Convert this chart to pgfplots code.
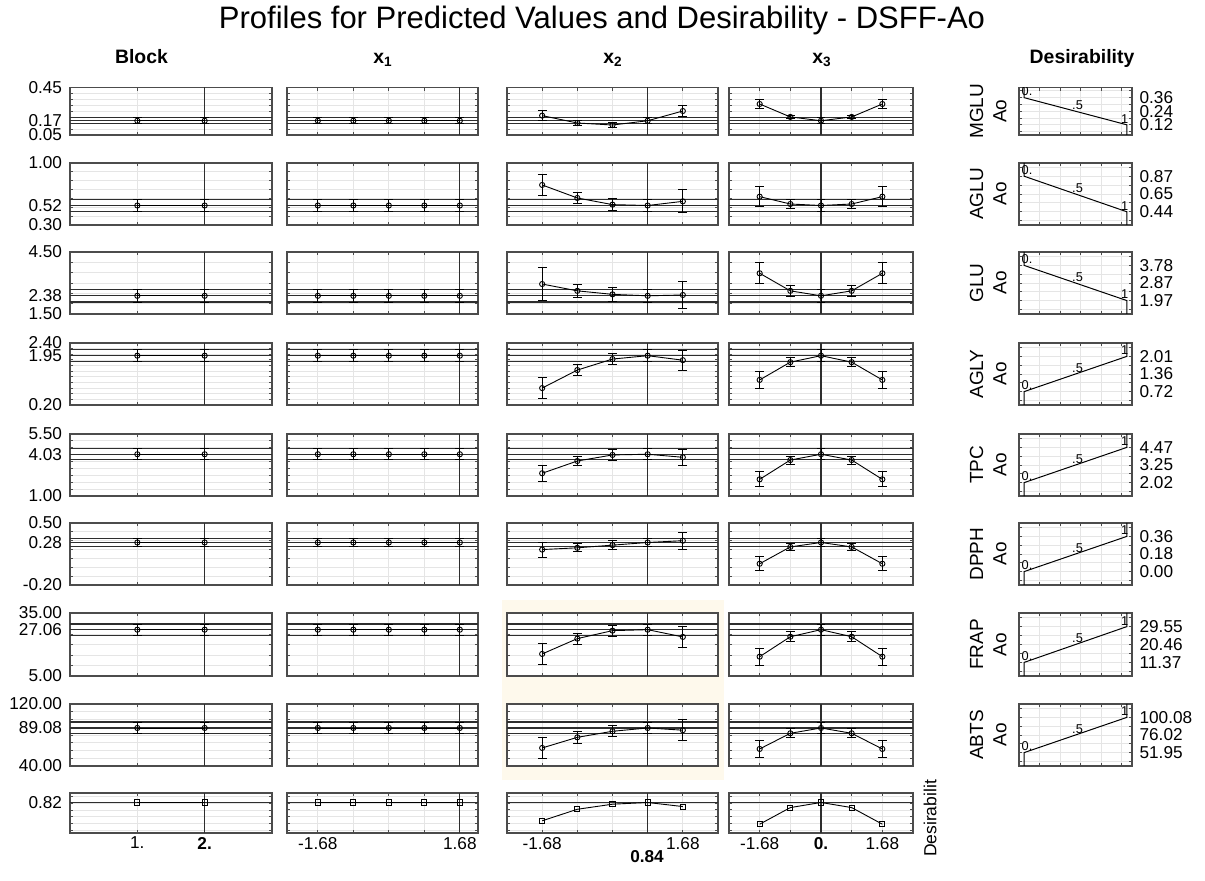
\documentclass[border=0pt]{standalone}
\usepackage{pgfplots}
\pgfplotsset{compat=1.18}
\usepackage{fontspec}
\setmainfont{Liberation Sans}

\definecolor{frame}{gray}{0.30}
\definecolor{refl}{gray}{0.18}
\definecolor{gridc}{gray}{0.90}
\definecolor{hilite}{RGB}{254,249,236}

\pgfplotsset{
  base/.style={
    scale only axis, anchor=north west,
    axis background/.style={fill=white},
    axis line style={draw=frame, line width=0.8pt},
    tick align=inside, xtick pos=both, ytick pos=both,
    major tick length=1.6pt, minor tick length=1.6pt,
    tick style={draw=frame, line width=0.45pt},
    major grid style={draw=gridc, line width=0.4pt},
    minor grid style={draw=gridc, line width=0.4pt},
    xticklabels={}, yticklabels={},
    tick label style={font=\fontsize{8.6}{9}\selectfont, inner sep=0pt},
  },
  panel/.style={
    base,
    xmajorgrids=true, ymajorgrids=false, yminorgrids=true,
    yticklabel style={xshift=-3.8pt},
    xticklabel style={yshift=-1.8pt},
    extra y tick style={ymajorgrids=true, major grid style={draw=refl, line width=0.6pt}, major tick length=0pt},
    extra y tick labels={},
    extra x tick style={xmajorgrids=true, major grid style={draw=refl, line width=0.6pt}, major tick length=0pt},
    extra x tick labels={},
  },
  dpanel/.style={
    base, width=56.5pt, xmin=-0.05, xmax=1.05,
    xtick={0.15,0.35,0.55,0.75,0.95},
    xmajorgrids=true, ymajorgrids=true,
    yticklabel pos=right,
    yticklabel style={xshift=3.6pt},
  },
  % columns of factor profiles
  cBlk/.style={width=101pt, xmin=0, xmax=3, xtick={1,2}, extra x ticks={2}},
  cXa/.style={width=95.5pt, xmin=-2.41, xmax=2.11, xtick={-1.68,-0.84,0,0.84,1.68}, extra x ticks={1.68}},
  cXb/.style={width=105.5pt, xmin=-2.52, xmax=2.52, xtick={-1.68,-0.84,0,0.84,1.68}, extra x ticks={0.84}},
  cXc/.style={width=92pt, xmin=-2.52, xmax=2.52, xtick={-1.68,-0.84,0,0.84,1.68}, extra x ticks={0}},
  % rows of responses: range, grid, prediction and confidence limits
  rMGLU/.style={height=23.75pt, ymin=0.05, ymax=0.45, ytick={0.05,0.17,0.45},
    minor ytick={0.1,0.15,0.2,0.25,0.3,0.35,0.4}, extra y ticks={0.146,0.17,0.194}},
  rAGLU/.style={height=31pt, ymin=0.3, ymax=1, ytick={0.3,0.52,1},
    minor ytick={0.4,0.5,0.6,0.7,0.8,0.9}, extra y ticks={0.45,0.52,0.59}},
  rGLU/.style={height=31pt, ymin=1.5, ymax=4.5, ytick={1.5,2.38,4.5},
    minor ytick={2,2.5,3,3.5,4}, extra y ticks={2.08,2.38,2.68}},
  rAGLY/.style={height=31pt, ymin=0.2, ymax=2.4, ytick={0.2,1.95,2.4},
    minor ytick={0.4,0.6,0.8,1,1.2,1.4,1.6,1.8,2,2.2}, extra y ticks={1.73,1.95,2.17}},
  rTPC/.style={height=31pt, ymin=1, ymax=5.5, ytick={1,4.03,5.5},
    minor ytick={1.5,2,2.5,3,3.5,4,4.5,5}, extra y ticks={3.63,4.03,4.43}},
  rDPPH/.style={height=31pt, ymin=-0.2, ymax=0.5, ytick={-0.2,0.28,0.5},
    minor ytick={-0.1,0,0.1,0.2,0.3,0.4}, extra y ticks={0.235,0.28,0.325}},
  rFRAP/.style={height=31.5pt, ymin=5, ymax=35, ytick={5,27.06,35},
    minor ytick={10,15,20,25,30}, extra y ticks={24.3,27.06,29.8}},
  rABTS/.style={height=31pt, ymin=40, ymax=120, ytick={40,89.08,120},
    minor ytick={50,60,70,80,90,100,110}, extra y ticks={81.5,89.08,96.7}},
  rDES/.style={height=20pt, ymin=-0.08, ymax=1.1, ytick={0.82},
    minor ytick={0,0.2,0.4,0.6,0.8,1}, extra y ticks={0.82}},
  prof/.style={black, line width=0.45pt, mark=o, mark size=1.3pt,
    mark options={solid, line width=0.45pt},
    /pgfplots/error bars/y dir=both, /pgfplots/error bars/y explicit,
    /pgfplots/error bars/error bar style={line width=0.45pt},
    /pgfplots/error bars/error mark options={rotate=90, mark size=2.2pt, line width=0.45pt}},
  dprof/.style={black, line width=0.45pt, mark=square, mark size=1.3pt,
    mark options={solid, line width=0.45pt}},
  dline/.style={black, line width=0.5pt},
}
\tikzset{dlab/.style={font=\fontsize{6.4}{7}\selectfont, inner sep=0.6pt}}

\begin{document}
\begin{tikzpicture}
\useasboundingbox (0,0) rectangle (602.5pt,-440.5pt);
\fill[hilite] (250.85pt,-300pt) rectangle (362.15pt,-390pt);

%================ Block =================
\begin{axis}[panel,cBlk,rMGLU,at={(35pt,-43.75pt)},yticklabels={0.05,0.17,0.45}]
\addplot[prof] coordinates {(1,0.17) +- (0,0.024) (2,0.17) +- (0,0.024)};
\end{axis}
\begin{axis}[panel,cBlk,rAGLU,at={(35pt,-81.5pt)},yticklabels={0.30,0.52,1.00}]
\addplot[prof] coordinates {(1,0.52) +- (0,0.07) (2,0.52) +- (0,0.07)};
\end{axis}
\begin{axis}[panel,cBlk,rGLU,at={(35pt,-126pt)},yticklabels={1.50,2.38,4.50}]
\addplot[prof] coordinates {(1,2.38) +- (0,0.3) (2,2.38) +- (0,0.3)};
\end{axis}
\begin{axis}[panel,cBlk,rAGLY,at={(35pt,-171.5pt)},yticklabels={0.20,1.95,2.40}]
\addplot[prof] coordinates {(1,1.95) +- (0,0.22) (2,1.95) +- (0,0.22)};
\end{axis}
\begin{axis}[panel,cBlk,rTPC,at={(35pt,-217pt)},yticklabels={1.00,4.03,5.50}]
\addplot[prof] coordinates {(1,4.03) +- (0,0.4) (2,4.03) +- (0,0.4)};
\end{axis}
\begin{axis}[panel,cBlk,rDPPH,at={(35pt,-261.5pt)},yticklabels={-0.20,0.28,0.50}]
\addplot[prof] coordinates {(1,0.28) +- (0,0.045) (2,0.28) +- (0,0.045)};
\end{axis}
\begin{axis}[panel,cBlk,rFRAP,at={(35pt,-306.5pt)},yticklabels={5.00,27.06,35.00}]
\addplot[prof] coordinates {(1,27.06) +- (0,2.7) (2,27.06) +- (0,2.7)};
\end{axis}
\begin{axis}[panel,cBlk,rABTS,at={(35pt,-352pt)},yticklabels={40.00,89.08,120.00}]
\addplot[prof] coordinates {(1,89.08) +- (0,7.6) (2,89.08) +- (0,7.6)};
\end{axis}
\begin{axis}[panel,cBlk,rDES,at={(35pt,-396.5pt)},yticklabels={0.82},xticklabels={1.,\textbf{2.}}]
\addplot[dprof] coordinates {(1,0.82) (2,0.82)};
\end{axis}

%================ x1 =================
\begin{axis}[panel,cXa,rMGLU,at={(143.5pt,-43.75pt)}]
\addplot[prof] coordinates {(-1.68,0.17) +- (0,0.024) (-0.84,0.17) +- (0,0.024) (0,0.17) +- (0,0.024) (0.84,0.17) +- (0,0.024) (1.68,0.17) +- (0,0.024)};
\end{axis}
\begin{axis}[panel,cXa,rAGLU,at={(143.5pt,-81.5pt)}]
\addplot[prof] coordinates {(-1.68,0.52) +- (0,0.07) (-0.84,0.52) +- (0,0.07) (0,0.52) +- (0,0.07) (0.84,0.52) +- (0,0.07) (1.68,0.52) +- (0,0.07)};
\end{axis}
\begin{axis}[panel,cXa,rGLU,at={(143.5pt,-126pt)}]
\addplot[prof] coordinates {(-1.68,2.38) +- (0,0.3) (-0.84,2.38) +- (0,0.3) (0,2.38) +- (0,0.3) (0.84,2.38) +- (0,0.3) (1.68,2.38) +- (0,0.3)};
\end{axis}
\begin{axis}[panel,cXa,rAGLY,at={(143.5pt,-171.5pt)}]
\addplot[prof] coordinates {(-1.68,1.95) +- (0,0.22) (-0.84,1.95) +- (0,0.22) (0,1.95) +- (0,0.22) (0.84,1.95) +- (0,0.22) (1.68,1.95) +- (0,0.22)};
\end{axis}
\begin{axis}[panel,cXa,rTPC,at={(143.5pt,-217pt)}]
\addplot[prof] coordinates {(-1.68,4.03) +- (0,0.4) (-0.84,4.03) +- (0,0.4) (0,4.03) +- (0,0.4) (0.84,4.03) +- (0,0.4) (1.68,4.03) +- (0,0.4)};
\end{axis}
\begin{axis}[panel,cXa,rDPPH,at={(143.5pt,-261.5pt)}]
\addplot[prof] coordinates {(-1.68,0.28) +- (0,0.045) (-0.84,0.28) +- (0,0.045) (0,0.28) +- (0,0.045) (0.84,0.28) +- (0,0.045) (1.68,0.28) +- (0,0.045)};
\end{axis}
\begin{axis}[panel,cXa,rFRAP,at={(143.5pt,-306.5pt)}]
\addplot[prof] coordinates {(-1.68,27.06) +- (0,2.7) (-0.84,27.06) +- (0,2.7) (0,27.06) +- (0,2.7) (0.84,27.06) +- (0,2.7) (1.68,27.06) +- (0,2.7)};
\end{axis}
\begin{axis}[panel,cXa,rABTS,at={(143.5pt,-352pt)}]
\addplot[prof] coordinates {(-1.68,89.08) +- (0,7.6) (-0.84,89.08) +- (0,7.6) (0,89.08) +- (0,7.6) (0.84,89.08) +- (0,7.6) (1.68,89.08) +- (0,7.6)};
\end{axis}
\begin{axis}[panel,cXa,rDES,at={(143.5pt,-396.5pt)},xticklabels={-1.68,,,,1.68}]
\addplot[dprof] coordinates {(-1.68,0.82) (-0.84,0.82) (0,0.82) (0.84,0.82) (1.68,0.82)};
\end{axis}

%================ x2 =================
\begin{axis}[panel,cXb,rMGLU,at={(253.5pt,-43.75pt)}]
\addplot[prof] coordinates {(-1.68,0.213) +- (0,0.043) (-0.84,0.151) +- (0,0.018) (0,0.134) +- (0,0.022) (0.84,0.17) +- (0,0.024) (1.68,0.252) +- (0,0.047)};
\end{axis}
\begin{axis}[panel,cXb,rAGLU,at={(253.5pt,-81.5pt)}]
\addplot[prof] coordinates {(-1.68,0.752) +- (0,0.12) (-0.84,0.605) +- (0,0.066) (0,0.53) +- (0,0.07) (0.84,0.52) +- (0,0.07) (1.68,0.567) +- (0,0.13)};
\end{axis}
\begin{axis}[panel,cXb,rGLU,at={(253.5pt,-126pt)}]
\addplot[prof] coordinates {(-1.68,2.95) +- (0,0.8) (-0.84,2.62) +- (0,0.3) (0,2.45) +- (0,0.33) (0.84,2.38) +- (0,0.3) (1.68,2.42) +- (0,0.65)};
\end{axis}
\begin{axis}[panel,cXb,rAGLY,at={(253.5pt,-171.5pt)}]
\addplot[prof] coordinates {(-1.68,0.80) +- (0,0.37) (-0.84,1.44) +- (0,0.20) (0,1.83) +- (0,0.20) (0.84,1.95) +- (0,0.22) (1.68,1.79) +- (0,0.36)};
\end{axis}
\begin{axis}[panel,cXb,rTPC,at={(253.5pt,-217pt)}]
\addplot[prof] coordinates {(-1.68,2.65) +- (0,0.6) (-0.84,3.54) +- (0,0.33) (0,3.98) +- (0,0.39) (0.84,4.03) +- (0,0.4) (1.68,3.81) +- (0,0.6)};
\end{axis}
\begin{axis}[panel,cXb,rDPPH,at={(253.5pt,-261.5pt)}]
\addplot[prof] coordinates {(-1.68,0.20) +- (0,0.085) (-0.84,0.22) +- (0,0.045) (0,0.25) +- (0,0.05) (0.84,0.28) +- (0,0.045) (1.68,0.30) +- (0,0.095)};
\end{axis}
\begin{axis}[panel,cXb,rFRAP,at={(253.5pt,-306.5pt)}]
\addplot[prof] coordinates {(-1.68,15.5) +- (0,4.85) (-0.84,22.8) +- (0,2.6) (0,26.6) +- (0,2.6) (0.84,27.06) +- (0,2.7) (1.68,23.6) +- (0,5.0)};
\end{axis}
\begin{axis}[panel,cXb,rABTS,at={(253.5pt,-352pt)}]
\addplot[prof] coordinates {(-1.68,63.3) +- (0,13.2) (-0.84,77.0) +- (0,7.5) (0,84.8) +- (0,7.1) (0.84,89.08) +- (0,7.6) (1.68,86.2) +- (0,13.3)};
\end{axis}
\begin{axis}[panel,cXb,rDES,at={(253.5pt,-396.5pt)},xticklabels={-1.68,,,,1.68}]
\addplot[dprof] coordinates {(-1.68,0.28) (-0.84,0.62) (0,0.77) (0.84,0.82) (1.68,0.70)};
\end{axis}

%================ x3 =================
\begin{axis}[panel,cXc,rMGLU,at={(364.5pt,-43.75pt)}]
\addplot[prof] coordinates {(-1.68,0.311) +- (0,0.04) (-0.84,0.202) +- (0,0.013) (0,0.17) +- (0,0.024) (0.84,0.202) +- (0,0.013) (1.68,0.311) +- (0,0.04)};
\end{axis}
\begin{axis}[panel,cXc,rAGLU,at={(364.5pt,-81.5pt)}]
\addplot[prof] coordinates {(-1.68,0.62) +- (0,0.11) (-0.84,0.537) +- (0,0.055) (0,0.52) +- (0,0.07) (0.84,0.537) +- (0,0.055) (1.68,0.62) +- (0,0.11)};
\end{axis}
\begin{axis}[panel,cXc,rGLU,at={(364.5pt,-126pt)}]
\addplot[prof] coordinates {(-1.68,3.47) +- (0,0.5) (-0.84,2.62) +- (0,0.28) (0,2.38) +- (0,0.3) (0.84,2.62) +- (0,0.28) (1.68,3.47) +- (0,0.5)};
\end{axis}
\begin{axis}[panel,cXc,rAGLY,at={(364.5pt,-171.5pt)}]
\addplot[prof] coordinates {(-1.68,1.09) +- (0,0.31) (-0.84,1.72) +- (0,0.165) (0,1.95) +- (0,0.22) (0.84,1.72) +- (0,0.165) (1.68,1.09) +- (0,0.31)};
\end{axis}
\begin{axis}[panel,cXc,rTPC,at={(364.5pt,-217pt)}]
\addplot[prof] coordinates {(-1.68,2.21) +- (0,0.55) (-0.84,3.61) +- (0,0.29) (0,4.03) +- (0,0.4) (0.84,3.61) +- (0,0.29) (1.68,2.21) +- (0,0.55)};
\end{axis}
\begin{axis}[panel,cXc,rDPPH,at={(364.5pt,-261.5pt)}]
\addplot[prof] coordinates {(-1.68,0.04) +- (0,0.08) (-0.84,0.23) +- (0,0.04) (0,0.28) +- (0,0.045) (0.84,0.23) +- (0,0.04) (1.68,0.04) +- (0,0.08)};
\end{axis}
\begin{axis}[panel,cXc,rFRAP,at={(364.5pt,-306.5pt)}]
\addplot[prof] coordinates {(-1.68,14.2) +- (0,4.15) (-0.84,23.7) +- (0,2.4) (0,27.06) +- (0,2.7) (0.84,23.7) +- (0,2.4) (1.68,14.2) +- (0,4.15)};
\end{axis}
\begin{axis}[panel,cXc,rABTS,at={(364.5pt,-352pt)}]
\addplot[prof] coordinates {(-1.68,62.0) +- (0,10.7) (-0.84,82.2) +- (0,5.8) (0,89.08) +- (0,7.6) (0.84,82.2) +- (0,5.8) (1.68,62.0) +- (0,10.7)};
\end{axis}
\begin{axis}[panel,cXc,rDES,at={(364.5pt,-396.5pt)},xticklabels={-1.68,,\textbf{0.},,1.68}]
\addplot[dprof] coordinates {(-1.68,0.18) (-0.84,0.67) (0,0.82) (0.84,0.67) (1.68,0.18)};
\end{axis}

%================ desirability functions =================
\begin{axis}[dpanel,height=23.75pt,at={(509.5pt,-43.75pt)},ymin=0.03,ymax=0.45,
  ytick={0.06,0.12,0.18,0.24,0.30,0.36,0.42},yticklabels={,0.12,,0.24,,0.36,}]
\addplot[dline] coordinates {(0,0.45) (0,0.36) (1,0.12) (1,0.03)};
\node[dlab,anchor=south west] at (axis cs:-0.04,0.36) {0.};
\node[dlab,anchor=south] at (axis cs:0.52,0.24) {.5};
\node[dlab,anchor=south east] at (axis cs:1.03,0.12) {1};
\end{axis}
\begin{axis}[dpanel,height=31pt,at={(509.5pt,-81.5pt)},ymin=0.28,ymax=1.03,
  ytick={0.3325,0.44,0.5475,0.655,0.7625,0.87,0.9775},yticklabels={,0.44,,0.65,,0.87,}]
\addplot[dline] coordinates {(0,1.03) (0,0.87) (1,0.44) (1,0.28)};
\node[dlab,anchor=south west] at (axis cs:-0.04,0.87) {0.};
\node[dlab,anchor=south] at (axis cs:0.52,0.655) {.5};
\node[dlab,anchor=south east] at (axis cs:1.03,0.44) {1};
\end{axis}
\begin{axis}[dpanel,height=31pt,at={(509.5pt,-126pt)},ymin=1.28,ymax=4.47,
  ytick={1.5175,1.97,2.4225,2.875,3.3275,3.78,4.2325},yticklabels={,1.97,,2.87,,3.78,}]
\addplot[dline] coordinates {(0,4.47) (0,3.78) (1,1.97) (1,1.28)};
\node[dlab,anchor=south west] at (axis cs:-0.04,3.78) {0.};
\node[dlab,anchor=south] at (axis cs:0.52,2.875) {.5};
\node[dlab,anchor=south east] at (axis cs:1.03,1.97) {1};
\end{axis}
\begin{axis}[dpanel,height=31pt,at={(509.5pt,-171.5pt)},ymin=0.23,ymax=2.50,
  ytick={0.3975,0.72,1.0425,1.365,1.6875,2.01,2.3325},yticklabels={,0.72,,1.36,,2.01,}]
\addplot[dline] coordinates {(0,0.23) (0,0.72) (1,2.01) (1,2.50)};
\node[dlab,anchor=south west] at (axis cs:-0.04,0.72) {0.};
\node[dlab,anchor=south] at (axis cs:0.52,1.365) {.5};
\node[dlab,anchor=south east] at (axis cs:1.03,2.01) {1};
\end{axis}
\begin{axis}[dpanel,height=31pt,at={(509.5pt,-217pt)},ymin=1.09,ymax=5.40,
  ytick={1.4075,2.02,2.6325,3.245,3.8575,4.47,5.0825},yticklabels={,2.02,,3.25,,4.47,}]
\addplot[dline] coordinates {(0,1.09) (0,2.02) (1,4.47) (1,5.40)};
\node[dlab,anchor=south west] at (axis cs:-0.04,2.02) {0.};
\node[dlab,anchor=south] at (axis cs:0.52,3.245) {.5};
\node[dlab,anchor=south east] at (axis cs:1.03,4.47) {1};
\end{axis}
\begin{axis}[dpanel,height=31pt,at={(509.5pt,-261.5pt)},ymin=-0.137,ymax=0.497,
  ytick={-0.09,0,0.09,0.18,0.27,0.36,0.45},yticklabels={,0.00,,0.18,,0.36,}]
\addplot[dline] coordinates {(0,-0.137) (0,0) (1,0.36) (1,0.497)};
\node[dlab,anchor=south west] at (axis cs:-0.04,0) {0.};
\node[dlab,anchor=south] at (axis cs:0.52,0.18) {.5};
\node[dlab,anchor=south east] at (axis cs:1.03,0.36) {1};
\end{axis}
\begin{axis}[dpanel,height=31.5pt,at={(509.5pt,-306.5pt)},ymin=4.46,ymax=36.46,
  ytick={6.825,11.37,15.915,20.46,25.005,29.55,34.095},yticklabels={,11.37,,20.46,,29.55,}]
\addplot[dline] coordinates {(0,4.46) (0,11.37) (1,29.55) (1,36.46)};
\node[dlab,anchor=south west] at (axis cs:-0.04,11.37) {0.};
\node[dlab,anchor=south] at (axis cs:0.52,20.46) {.5};
\node[dlab,anchor=south east] at (axis cs:1.03,29.55) {1};
\end{axis}
\begin{axis}[dpanel,height=31pt,at={(509.5pt,-352pt)},ymin=33.66,ymax=118.37,
  ytick={39.9175,51.95,63.9825,76.015,88.0475,100.08,112.1125},yticklabels={,51.95,,76.02,,100.08,}]
\addplot[dline] coordinates {(0,33.66) (0,51.95) (1,100.08) (1,118.37)};
\node[dlab,anchor=south west] at (axis cs:-0.04,51.95) {0.};
\node[dlab,anchor=south] at (axis cs:0.52,76.015) {.5};
\node[dlab,anchor=south east] at (axis cs:1.03,100.08) {1};
\end{axis}

%================ titles and labels =================
\node[anchor=base, font=\fontsize{15.5}{16}\selectfont] at (301pt,-14.5pt)
  {Profiles for Predicted Values and Desirability - DSFF-Ao};
\begin{scope}[every node/.style={anchor=base, font=\bfseries\fontsize{9.7}{10}\selectfont}]
  \node at (70.75pt,-32pt) {Block};
  \node at (191.5pt,-32pt) {x\textsubscript{1}};
  \node at (306.5pt,-32pt) {x\textsubscript{2}};
  \node at (411pt,-32pt) {x\textsubscript{3}};
  \node at (541pt,-32pt) {Desirability};
\end{scope}
\node[font=\bfseries\fontsize{8.6}{9}\selectfont] at (323.5pt,-428.5pt) {0.84};
\node[rotate=90, inner sep=0pt, font=\fontsize{8.75}{9}\selectfont] at (465pt,-409.25pt) {Desirabilit};
\foreach \name/\yy in {MGLU/-55.63, AGLU/-97, GLU/-141.5, AGLY/-187, TPC/-232.5, DPPH/-277, FRAP/-322.25, ABTS/-367.5}{
  \node[rotate=90, inner sep=0pt, font=\fontsize{9.5}{10}\selectfont] at (488.25pt,\yy pt) {\name};
  \node[rotate=90, inner sep=0pt, font=\fontsize{9.5}{10}\selectfont] at (500pt,\yy pt) {Ao};
}
\end{tikzpicture}
\end{document}
